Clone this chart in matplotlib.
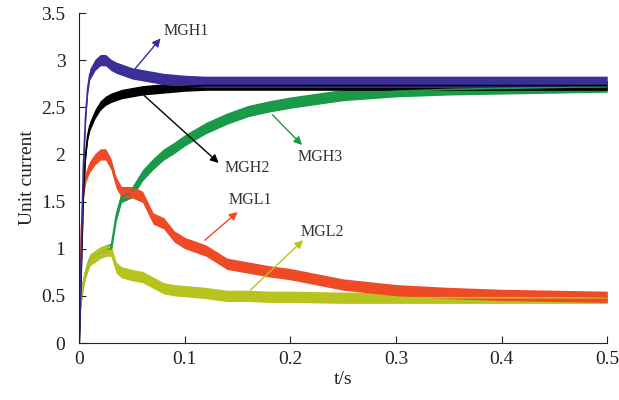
import numpy as np
import matplotlib
matplotlib.use('Agg')
import matplotlib.pyplot as plt

plt.rcParams['font.family'] = ['Liberation Serif', 'DejaVu Serif']

# time grid (s)
t = [0, 0.002, 0.004, 0.006, 0.008, 0.01, 0.015, 0.02, 0.025, 0.03, 0.035, 0.04,
     0.05, 0.06, 0.07, 0.08, 0.09, 0.1, 0.12, 0.14, 0.16, 0.18, 0.2, 0.25, 0.3,
     0.35, 0.4, 0.45, 0.5]

# unit current (band centre)
mgh1 = [0, 1.0, 1.9, 2.4, 2.7, 2.85, 2.95, 3.0, 3.0, 2.95, 2.92, 2.9, 2.86, 2.84,
        2.82, 2.8, 2.79, 2.78, 2.77, 2.77, 2.77, 2.77, 2.77, 2.77, 2.77, 2.77,
        2.77, 2.77, 2.77]
mgh2 = [0, 0.8, 1.6, 2.0, 2.2, 2.3, 2.43, 2.52, 2.57, 2.6, 2.62, 2.64, 2.66, 2.68,
        2.69, 2.7, 2.71, 2.72, 2.73, 2.73, 2.73, 2.73, 2.73, 2.73, 2.73, 2.73,
        2.73, 2.73, 2.73]
mgh3 = [0.25, 0.5, 0.65, 0.75, 0.82, 0.88, 0.92, 0.96, 0.98, 1.0, 1.35, 1.55, 1.6,
        1.78, 1.9, 2.0, 2.07, 2.15, 2.28, 2.38, 2.46, 2.51, 2.55, 2.63, 2.67,
        2.69, 2.7, 2.71, 2.72]
mgl1 = [0, 1.2, 1.6, 1.75, 1.82, 1.87, 1.95, 2.0, 2.0, 1.9, 1.7, 1.6, 1.6, 1.55,
        1.32, 1.27, 1.13, 1.06, 0.98, 0.84, 0.8, 0.76, 0.73, 0.62, 0.56, 0.53,
        0.51, 0.5, 0.49]
mgl2 = [0.25, 0.5, 0.65, 0.75, 0.82, 0.88, 0.92, 0.96, 0.98, 0.98, 0.8, 0.75, 0.72,
        0.7, 0.64, 0.58, 0.56, 0.55, 0.53, 0.5, 0.5, 0.49, 0.49, 0.48, 0.48,
        0.48, 0.48, 0.48, 0.48]

# half width of the noise band of each series
noise = {'MGH1': 0.06, 'MGH2': 0.05, 'MGH3': 0.06, 'MGL1': 0.06, 'MGL2': 0.06}

colors = {'MGH1': '#3a2f96', 'MGH2': '#000000', 'MGH3': '#1a9a48',
          'MGL1': '#ee4a26', 'MGL2': '#b8c41e'}

# drawing order: bottom to top
series = [('MGH3', mgh3), ('MGL2', mgl2), ('MGL1', mgl1), ('MGH2', mgh2), ('MGH1', mgh1)]

fig = plt.figure(figsize=(6.19, 4.0), dpi=100)
ax = fig.add_axes([0.128, 0.1425, 0.853, 0.825])

tt = np.array(t)
for name, vals in series:
    v = np.array(vals)
    hw = noise[name]
    ax.fill_between(tt, v - hw, v + hw, color=colors[name], lw=0)
    ax.plot(tt, v, color=colors[name], lw=1.2)

# annotations: (label, text pos, arrow start, arrow end)
notes = [
    ('MGH1', (0.080, 3.31), (0.053, 2.91), (0.077, 3.23)),
    ('MGH2', (0.138, 1.86), (0.061, 2.63), (0.132, 1.91)),
    ('MGH3', (0.207, 1.97), (0.183, 2.42), (0.211, 2.10)),
    ('MGL1', (0.141, 1.52), (0.119, 1.09), (0.150, 1.39)),
    ('MGL2', (0.210, 1.18), (0.162, 0.56), (0.212, 1.09)),
]
for name, tpos, a0, a1 in notes:
    ax.annotate('', xy=a1, xytext=a0,
                arrowprops=dict(arrowstyle='-|>', color=colors[name], lw=1,
                                mutation_scale=12, shrinkA=0, shrinkB=0))
    ax.text(tpos[0], tpos[1], name, fontsize=11.5, color='#333333',
            ha='left', va='center')

ax.set_xlim(0, 0.5)
ax.set_ylim(0, 3.5)
ax.set_xticks([0, 0.1, 0.2, 0.3, 0.4, 0.5])
ax.set_xticklabels(['0', '0.1', '0.2', '0.3', '0.4', '0.5'])
ax.set_yticks([0, 0.5, 1, 1.5, 2, 2.5, 3, 3.5])
ax.set_yticklabels(['0', '0.5', '1', '1.5', '2', '2.5', '3', '3.5'])
ax.tick_params(direction='in', length=5, labelsize=14, colors='#222222')
ax.tick_params(axis='y', pad=10)
ax.tick_params(axis='x', pad=6)
ax.spines['top'].set_visible(False)
ax.spines['right'].set_visible(False)
for s in ['left', 'bottom']:
    ax.spines[s].set_color('#222222')
ax.set_xlabel('t/s', fontsize=14, color='#222222', labelpad=2)
ax.set_ylabel('Unit current', fontsize=14, color='#222222', labelpad=4)

fig.savefig('out.png', dpi=100)
